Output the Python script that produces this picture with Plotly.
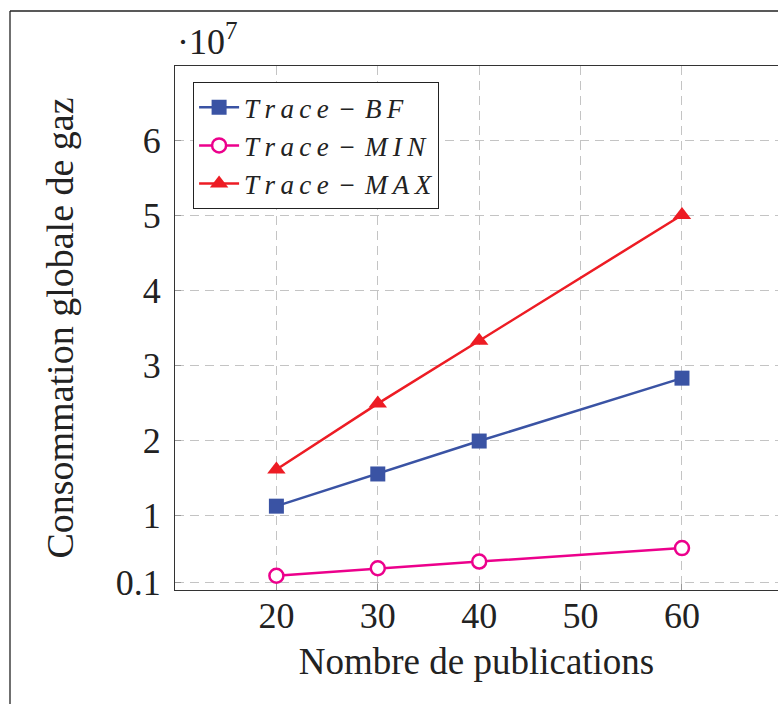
import plotly.graph_objects as go

# Data (values in units of 1e7)
x_pub = [20, 30, 40, 60]
trace_bf = [1.12, 1.55, 1.99, 2.83]
trace_min = [0.19, 0.29, 0.38, 0.56]
trace_max = [1.61, 2.49, 3.33, 5.01]

y_tickvals = [0.1, 1, 2, 3, 4, 5, 6]
y_ticktext = ["0.1", "1", "2", "3", "4", "5", "6"]
x_tickvals = [20, 30, 40, 50, 60]
series_names = ["Trace \u2212 BF", "Trace \u2212 MIN", "Trace \u2212 MAX"]

FONT = "Liberation Serif"
BLUE = "#3a53a4"
MAGENTA = "#ec008c"
RED = "#ed1c24"

def legname(s):
    # math-italic look: slightly letter-spaced italic
    parts = s.split(" \u2212 ")
    spaced = ["\u2009".join(list(p)) for p in parts]
    return "<i>" + "\u2004\u2212\u2004".join(spaced) + "</i>"

fig = go.Figure()
fig.add_trace(go.Scatter(
    x=x_pub, y=trace_bf, mode="lines+markers",
    name=legname(series_names[0]),
    line=dict(color=BLUE, width=2.5),
    marker=dict(symbol="square", size=15, color=BLUE)))
fig.add_trace(go.Scatter(
    x=x_pub, y=trace_min, mode="lines+markers",
    name=legname(series_names[1]),
    line=dict(color=MAGENTA, width=2.5),
    marker=dict(symbol="circle", size=14, color="white",
                line=dict(color=MAGENTA, width=2.5))))
fig.add_trace(go.Scatter(
    x=x_pub, y=trace_max, mode="lines+markers",
    name=legname(series_names[2]),
    line=dict(color=RED, width=2.5),
    marker=dict(symbol="triangle-up", size=16, color=RED)))

fig.update_layout(
    width=778, height=704,
    margin=dict(l=175, r=0, t=66, b=114),
    paper_bgcolor="white", plot_bgcolor="white",
    font=dict(family=FONT, size=36, color="#222222"),
    showlegend=True,
    legend=dict(x=0.03, y=0.969, xanchor="left", yanchor="top",
                bgcolor="white", bordercolor="#222222", borderwidth=1,
                font=dict(family=FONT, size=27, color="#222222"),
                tracegroupgap=0, itemwidth=40),
)

fig.update_xaxes(
    range=[10, 69.47], tickvals=x_tickvals,
    showgrid=True, gridcolor="#c4c4c4", griddash="9px,6px", gridwidth=1.2,
    showline=True, linecolor="#333333", linewidth=1.3, mirror=True,
    ticks="inside", ticklen=6, tickcolor="#999999",
    zeroline=False, ticklabelstandoff=-6,
    tickfont=dict(family=FONT, size=36, color="#222222"),
    title=dict(text="Nombre de publications", standoff=12,
               font=dict(family=FONT, size=37, color="#222222")),
)
fig.update_yaxes(
    range=[0, 7], tickvals=y_tickvals, ticktext=y_ticktext,
    showgrid=True, gridcolor="#c4c4c4", griddash="9px,6px", gridwidth=1.2,
    showline=True, linecolor="#333333", linewidth=1.3, mirror=False,
    ticks="inside", ticklen=6, tickcolor="#999999",
    zeroline=False, ticklabelstandoff=6,
    tickfont=dict(family=FONT, size=36, color="#222222"),
    title=dict(text="Consommation globale de gaz", standoff=30,
               font=dict(family=FONT, size=38, color="#222222")),
)

fig.add_annotation(text="\u00b710<sup>7</sup>", xref="paper", yref="paper",
                   x=0, y=1, xanchor="left", yanchor="bottom", yshift=2,
                   showarrow=False, font=dict(family=FONT, size=36, color="#222222"))

# outer frame (left and top edges)
fig.add_shape(type="line", xref="paper", yref="paper",
              x0=-165/603, x1=-165/603, y0=1 + 55/524, y1=-114/524 - 0.01,
              line=dict(color="#222222", width=1.3))
fig.add_shape(type="line", xref="paper", yref="paper",
              x0=-165/603, x1=1.01, y0=1 + 55/524, y1=1 + 55/524,
              line=dict(color="#222222", width=1.3))

fig.write_html("out.html")
